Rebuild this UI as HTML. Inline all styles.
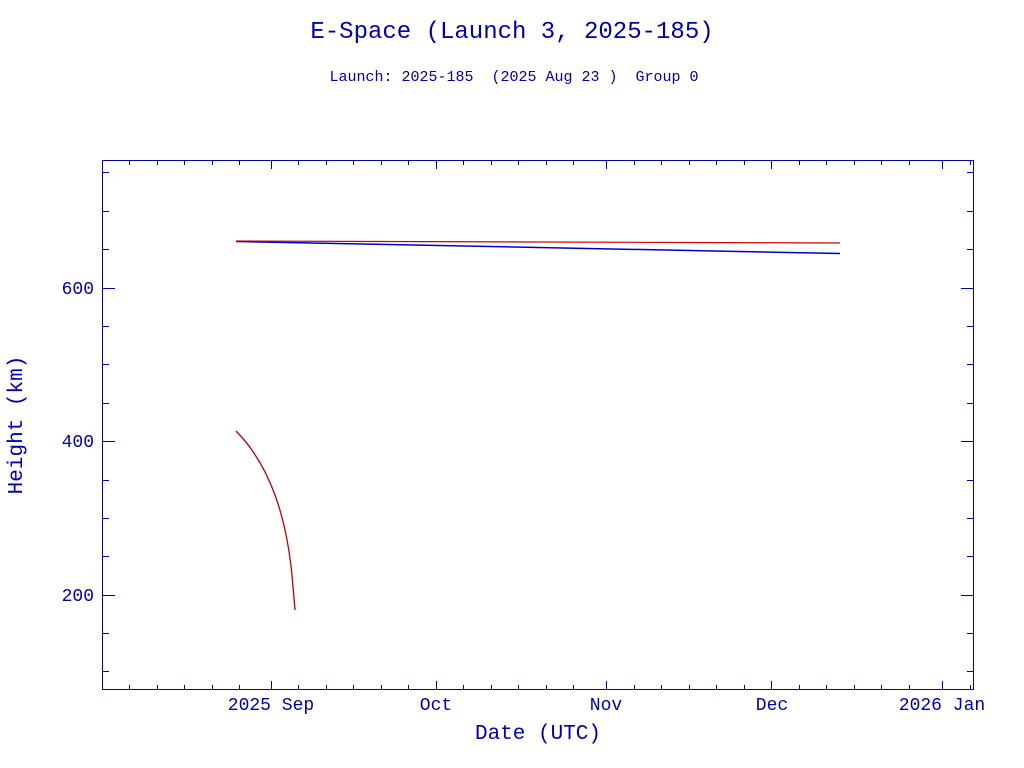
<!DOCTYPE html>
<html><head><style>body{margin:0;background:#fff}svg{display:block}</style></head><body>
<svg width="1024" height="768" xmlns="http://www.w3.org/2000/svg" font-family="Liberation Mono, monospace" fill="#0000aa">
<text x="512" y="38" font-size="24" text-anchor="middle">E-Space (Launch 3, 2025-185)</text>
<text x="514" y="81" font-size="15" text-anchor="middle" style="white-space:pre" xml:space="preserve">Launch: 2025-185  (2025 Aug 23 )  Group 0</text>
<rect x="102.5" y="160.5" width="871" height="529" fill="none" stroke="#0000aa" stroke-width="1"/>
<g stroke="#0000aa" stroke-width="1">
<path d="M129.5,689v-4M157.5,689v-4M184.5,689v-4M212.5,689v-4M239.5,689v-4M271.5,689v-8M298.5,689v-4M326.5,689v-4M353.5,689v-4M381.5,689v-4M408.5,689v-4M436.5,689v-8M463.5,689v-4M491.5,689v-4M518.5,689v-4M546.5,689v-4M573.5,689v-4M606.5,689v-8M634.5,689v-4M661.5,689v-4M689.5,689v-4M716.5,689v-4M744.5,689v-4M771.5,689v-8M799.5,689v-4M826.5,689v-4M854.5,689v-4M881.5,689v-4M909.5,689v-4M942.5,689v-8M970.5,689v-4"/>
<path d="M129.5,161v4M157.5,161v4M184.5,161v4M212.5,161v4M239.5,161v4M271.5,161v8M298.5,161v4M326.5,161v4M353.5,161v4M381.5,161v4M408.5,161v4M436.5,161v8M463.5,161v4M491.5,161v4M518.5,161v4M546.5,161v4M573.5,161v4M606.5,161v8M634.5,161v4M661.5,161v4M689.5,161v4M716.5,161v4M744.5,161v4M771.5,161v8M799.5,161v4M826.5,161v4M854.5,161v4M881.5,161v4M909.5,161v4M942.5,161v8M970.5,161v4"/>
<path d="M103,671.5h6M103,633.5h6M103,595.5h12M103,556.5h6M103,518.5h6M103,480.5h6M103,441.5h12M103,403.5h6M103,364.5h6M103,326.5h6M103,288.5h12M103,249.5h6M103,211.5h6M103,172.5h6"/>
<path d="M973,671.5h-6M973,633.5h-6M973,595.5h-12M973,556.5h-6M973,518.5h-6M973,480.5h-6M973,441.5h-12M973,403.5h-6M973,364.5h-6M973,326.5h-6M973,288.5h-12M973,249.5h-6M973,211.5h-6M973,172.5h-6"/>
</g>
<g font-size="18" text-anchor="end">
<text x="94" y="601">200</text><text x="94" y="447">400</text><text x="94" y="294">600</text>
</g>
<g font-size="18" text-anchor="middle">
<text x="271" y="710">2025 Sep</text><text x="436" y="710">Oct</text><text x="606" y="710">Nov</text><text x="772" y="710">Dec</text><text x="942" y="710">2026 Jan</text>
</g>
<text x="538" y="739" font-size="21" text-anchor="middle">Date (UTC)</text>
<text transform="translate(22,425) rotate(-90)" font-size="21" text-anchor="middle">Height (km)</text>
<polyline points="236,241.5 840,253.5" fill="none" stroke="#0000cc" stroke-width="1.5"/>
<polyline points="236,241 840,243" fill="none" stroke="#cc0000" stroke-width="1.2"/>
<path d="M236,431 C252,447 265,468 275,495 C283,517 289,545 292,575 L295,610" fill="none" stroke="#bb0000" stroke-width="1.3"/>
</svg>
</body></html>
